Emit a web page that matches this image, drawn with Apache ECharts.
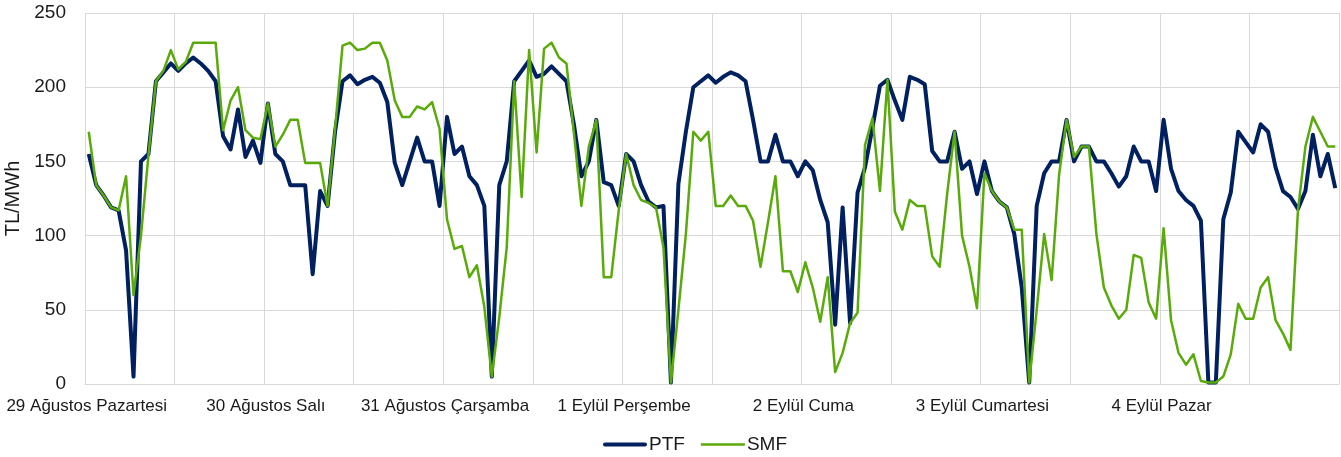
<!DOCTYPE html>
<html>
<head>
<meta charset="utf-8">
<script src="https://cdn.jsdelivr.net/npm/echarts@6/dist/echarts.min.js"></script>
<style>
  html, body { margin: 0; padding: 0; background: #fff; }
  #chart { width: 1341px; height: 457px; }
</style>
</head>
<body>
<div id="chart"></div>
<script>
const days = ['29 Ağustos Pazartesi', '30 Ağustos Salı', '31 Ağustos Çarşamba', '1 Eylül Perşembe', '2 Eylül Cuma', '3 Eylül Cumartesi', '4 Eylül Pazar'];
const hours = ['00', '01', '02', '03', '04', '05', '06', '07', '08', '09', '10', '11', '12', '13', '14', '15', '16', '17', '18', '19', '20', '21', '22', '23'];

// saatlik PTF (TL/MWh)
const ptf = [
  155, 134, 127, 119, 117, 90, 5, 150, 155, 204, 210, 216, 211, 216, 220, 216, 211, 204, 167, 158, 185, 153, 164, 149,
  189, 155, 150, 134, 134, 134, 74, 130, 120, 170, 204, 208, 202, 205, 207, 203, 190, 149, 134, 150, 166, 150, 150, 120,
  180, 155, 160, 140, 134, 120, 5, 134, 150, 204, 211, 218, 207, 209, 214, 209, 204, 175, 140, 150, 178, 136, 134, 120,
  155, 150, 134, 123, 119, 120, 1, 135, 170, 200, 204, 208, 203, 207, 210, 208, 204, 178, 150, 150, 168, 150, 150, 140,
  150, 144, 124, 109, 40, 119, 41, 129, 146, 173, 201, 205, 191, 178, 207, 205, 202, 157, 150, 150, 170, 145, 150, 128,
  150, 130, 123, 119, 101, 65, 1, 120, 142, 150, 150, 178, 150, 160, 160, 150, 150, 142, 133, 140, 160, 150, 150, 130,
  178, 145, 130, 124, 120, 110, 1, 1, 111, 129, 170, 163, 156, 175, 170, 146, 130, 126, 118, 130, 168, 140, 155, 132
];

// saatlik SMF (TL/MWh)
const smf = [
  170, 134, 127, 119, 117, 140, 60, 100, 154, 204, 211, 225, 212, 217, 230, 230, 230, 230, 171, 191, 200, 171, 166, 165,
  189, 160, 168, 178, 178, 149, 149, 149, 120, 172, 228, 230, 225, 226, 230, 230, 218, 191, 180, 180, 187, 185, 190, 172,
  111, 91, 93, 72, 80, 52, 5, 45, 92, 204, 126, 225, 156, 226, 230, 220, 216, 169, 120, 160, 178, 72, 72, 117,
  155, 134, 124, 122, 119, 92, 1, 50, 101, 170, 164, 170, 120, 120, 127, 120, 120, 110, 79, 109, 140, 76, 76, 62,
  82, 65, 42, 72, 8, 21, 41, 48, 161, 179, 130, 205, 116, 104, 124, 120, 120, 86, 79, 128, 170, 100, 79, 51,
  142, 130, 123, 119, 104, 104, 1, 50, 101, 70, 141, 178, 153, 160, 160, 101, 65, 53, 44, 50, 87, 85, 55, 44,
  105, 43, 21, 13, 20, 2, 1, 1, 5, 20, 54, 44, 44, 65, 72, 43, 34, 23, 117, 160, 180, 170, 160, 160
];

const categories = [];
days.forEach(d => hours.forEach(h => categories.push(d + '|' + h)));

const font = 'Liberation Sans, Arial, sans-serif';
const gridColor = '#d9d9d9';
const ptfColor = '#002060';
const smfColor = '#5aaa0c';

const option = {
  animation: false,
  textStyle: { fontFamily: font },
  grid: { left: 85, right: 2, top: 13, bottom: 73, outerBoundsMode: 'none', containLabel: false },
  legend: {
    top: 430,
    left: 598,
    itemWidth: 44,
    itemHeight: 4,
    itemGap: 16,
    symbolKeepAspect: true,
    textStyle: { fontSize: 19, color: '#1a1a1a', fontFamily: font, padding: [0, 0, 0, -3] },
    data: [
      { name: 'PTF', icon: 'path://M2,0 L42,0 A2,2 0 0 1 42,4 L2,4 A2,2 0 0 1 2,0 Z', itemStyle: { color: ptfColor } },
      { name: 'SMF', icon: 'path://M0,0 L44,0 L44,2.6 L0,2.6 Z', itemStyle: { color: smfColor } }
    ]
  },
  xAxis: {
    type: 'category',
    data: categories,
    boundaryGap: true,
    axisLine: { lineStyle: { color: gridColor, width: 1 } },
    axisTick: { interval: 23, length: 5, lineStyle: { color: gridColor } },
    axisLabel: {
      interval: 23,
      margin: 14,
      fontSize: 17,
      color: '#1a1a1a',
      fontFamily: font,
      padding: [0, 4, 0, 0],
      formatter: v => v.split('|')[0]
    },
    splitLine: { show: true, interval: 11, lineStyle: { color: gridColor, width: 1 } }
  },
  yAxis: {
    type: 'value',
    min: 0,
    max: 250,
    interval: 50,
    name: 'TL/MWh',
    nameLocation: 'middle',
    nameGap: 58,
    nameTextStyle: { fontSize: 20, color: '#1a1a1a', fontFamily: font },
    axisLine: { show: false },
    axisTick: { show: false },
    axisLabel: { fontSize: 19, color: '#1a1a1a', margin: 19, fontFamily: font },
    splitLine: { lineStyle: { color: gridColor, width: 1 } }
  },
  series: [
    {
      name: 'PTF',
      type: 'line',
      data: ptf,
      showSymbol: false,
      symbol: 'none',
      color: ptfColor,
      lineStyle: { width: 4, color: ptfColor, join: 'round' }
    },
    {
      name: 'SMF',
      type: 'line',
      data: smf,
      showSymbol: false,
      symbol: 'none',
      color: smfColor,
      lineStyle: { width: 2.5, color: smfColor, join: 'round' }
    }
  ]
};

const chart = echarts.init(document.getElementById('chart'), null, { renderer: 'canvas' });
chart.setOption(option);
</script>
</body>
</html>
